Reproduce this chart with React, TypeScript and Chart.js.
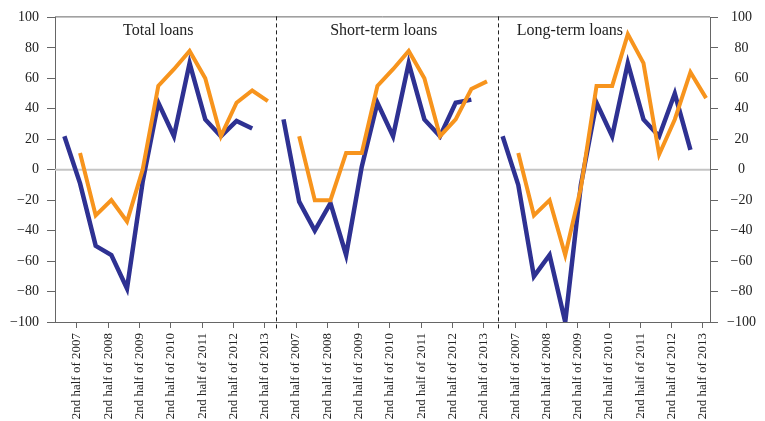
import React, { useEffect, useRef } from 'react';
import { Chart, registerables } from 'chart.js';

Chart.register(...registerables);

// ---- data ----
const panelTitles = ['Total loans', 'Short-term loans', 'Long-term loans'];
const tickLabels = [
  '2nd half of 2007',
  '2nd half of 2008',
  '2nd half of 2009',
  '2nd half of 2010',
  '2nd half of 2011',
  '2nd half of 2012',
  '2nd half of 2013',
];
const yTicks = [-100, -80, -60, -40, -20, 0, 20, 40, 60, 80, 100];

// blue series (starts one half-year earlier)
const blueTotal = [22, -9, -50, -56, -78, -8, 44, 22, 70, 33, 22, 32, 27];
const blueShort = [33, -21, -40, -22, -56, 2, 44, 22, 70, 33, 22, 44, 46];
const blueLong = [22, -10, -70, -56, -100, -10, 44, 22, 70, 33, 22, 50, 13];
// orange series
const orangeTotal = [11, -30, -20, -34, 0, 55, 66, 78, 60, 22, 44, 52, 45];
const orangeShort = [22, -20, -20, 11, 11, 55, 66, 78, 60, 22, 33, 53, 58];
const orangeLong = [11, -30, -20, -56, -12, 55, 55, 89, 70, 10, 33, 64, 47];

// ---- layout constants (in half-year units) ----
const PANEL_SPAN = 14;
const BLUE_SHIFT = -1;
const TICK_SHIFT = -0.2;
const X_MIN = -1.6;
const X_MAX = 40.25;
const SEPARATORS = [12.5, 26.7];
const TITLE_X = [5, 19.4, 31.3];

const BLUE = '#2e3192';
const ORANGE = '#f7941d';
const FONT = "'Liberation Serif', 'Times New Roman', serif";

const blueSeries = [blueTotal, blueShort, blueLong];
const orangeSeries = [orangeTotal, orangeShort, orangeLong];

function toPoints(values: number[], panel: number, shift: number) {
  return values.map((v, i) => ({ x: panel * PANEL_SPAN + i + shift, y: v }));
}

const tickPositions: number[] = [];
for (let p = 0; p < 3; p++) {
  for (let j = 0; j < tickLabels.length; j++) {
    tickPositions.push(p * PANEL_SPAN + 2 * j + TICK_SHIFT);
  }
}

const decorPlugin = {
  id: 'decor',
  beforeDatasetsDraw(chart: any) {
    const { ctx, chartArea, scales } = chart;
    const x = scales.x;
    const y = scales.y;
    ctx.save();
    // zero line
    const y0 = y.getPixelForValue(0);
    ctx.strokeStyle = '#c4c4c4';
    ctx.lineWidth = 2;
    ctx.beginPath();
    ctx.moveTo(chartArea.left, y0);
    ctx.lineTo(chartArea.right, y0);
    ctx.stroke();
    // top border
    ctx.strokeStyle = '#666';
    ctx.lineWidth = 1;
    ctx.beginPath();
    ctx.moveTo(chartArea.left, chartArea.top - 0.5);
    ctx.lineTo(chartArea.right, chartArea.top - 0.5);
    ctx.stroke();
    // separators
    ctx.strokeStyle = '#222';
    ctx.setLineDash([4, 3]);
    SEPARATORS.forEach((s) => {
      const px = Math.round(x.getPixelForValue(s)) + 0.5;
      ctx.beginPath();
      ctx.moveTo(px, chartArea.top - 1);
      ctx.lineTo(px, chartArea.bottom + 9);
      ctx.stroke();
    });
    ctx.setLineDash([]);
    // titles
    ctx.fillStyle = '#222';
    ctx.font = `16px ${FONT}`;
    ctx.textAlign = 'center';
    ctx.textBaseline = 'alphabetic';
    panelTitles.forEach((t, i) => {
      ctx.fillText(t, x.getPixelForValue(TITLE_X[i]), chartArea.top + 18);
    });
    ctx.restore();
  },
};

const fmt = (v: number) => (v < 0 ? '\u2212' + Math.abs(v) : String(v));

export default function App() {
  const ref = useRef<HTMLCanvasElement | null>(null);

  useEffect(() => {
    if (!ref.current) return;
    const datasets: any[] = [];
    for (let p = 0; p < 3; p++) {
      datasets.push({
        data: toPoints(orangeSeries[p], p, 0),
        borderColor: ORANGE,
        borderWidth: 4,
        pointRadius: 0,
        fill: false,
        tension: 0,
        borderJoinStyle: 'miter',
        order: 0,
      });
      datasets.push({
        data: toPoints(blueSeries[p], p, BLUE_SHIFT),
        borderColor: BLUE,
        borderWidth: 4.5,
        pointRadius: 0,
        fill: false,
        tension: 0,
        borderJoinStyle: 'miter',
        order: 1,
      });
    }

    const yCommon = (pos: 'left' | 'right') => ({
      type: 'linear',
      position: pos,
      min: -100,
      max: 100,
      afterBuildTicks: (s: any) => {
        s.ticks = yTicks.map((v) => ({ value: v }));
      },
      afterFit: (s: any) => {
        s.width = 55;
      },
      ticks: {
        font: { family: FONT, size: 14 },
        color: '#222',
        padding: pos === 'left' ? 8 : 9,
        crossAlign: pos === 'left' ? 'near' : 'center',
        callback: (v: number) => fmt(v),
      },
      grid: {
        drawOnChartArea: false,
        drawTicks: true,
        tickLength: 8,
        tickColor: '#666',
      },
      border: { color: '#666', width: 1 },
    });

    const chart = new Chart(ref.current, {
      type: 'line',
      data: { datasets },
      plugins: [decorPlugin],
      options: {
        responsive: false,
        animation: false,
        devicePixelRatio: 1,
        layout: { padding: { top: 14, left: 0, right: 0, bottom: 0 } },
        plugins: { legend: { display: false }, tooltip: { enabled: false } },
        scales: {
          x: {
            type: 'linear',
            min: X_MIN,
            max: X_MAX,
            afterBuildTicks: (s: any) => {
              s.ticks = tickPositions.map((v) => ({ value: v }));
            },
            afterFit: (s: any) => {
              s.height = 99;
            },
            ticks: {
              autoSkip: false,
              minRotation: 90,
              maxRotation: 90,
              font: { family: FONT, size: 13 },
              color: '#222',
              padding: 5,
              callback: (_v: number, i: number) => tickLabels[i % tickLabels.length],
            },
            grid: {
              drawOnChartArea: false,
              drawTicks: true,
              tickLength: 6,
              tickColor: '#666',
            },
            border: { color: '#666', width: 1 },
          },
          y: yCommon('left') as any,
          y2: yCommon('right') as any,
        },
      } as any,
    });
    return () => chart.destroy();
  }, []);

  return (
    <div style={{ position: 'fixed', left: 0, top: 0, width: 765, height: 421, background: '#fff' }}>
      <canvas ref={ref} width={765} height={421} style={{ width: 765, height: 421, display: 'block' }} />
    </div>
  );
}
